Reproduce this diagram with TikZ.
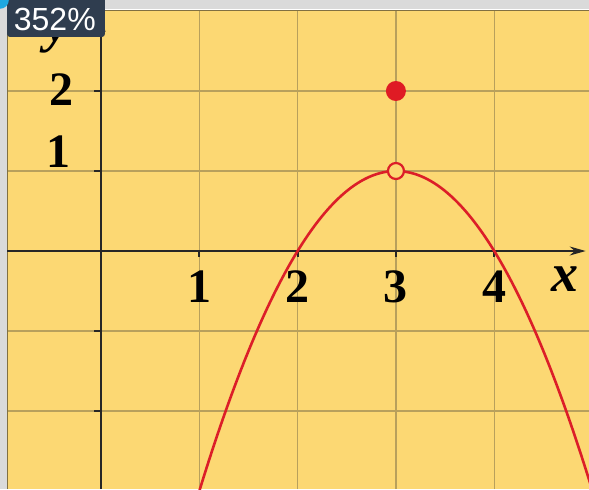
\documentclass[tikz,border=0pt]{standalone}
\usepackage{fontspec}
\setmainfont{Liberation Serif}
\newfontfamily\zoomfont{Liberation Sans}
\usetikzlibrary{positioning,arrows.meta,calc}
\definecolor{paper}{HTML}{FCD873}
\definecolor{gridline}{HTML}{B8A05C}
\definecolor{curve}{HTML}{DC1E28}
\definecolor{frame}{HTML}{DADADA}
\definecolor{badge}{HTML}{2F3D4F}
\definecolor{corner}{HTML}{1FA8E0}
\tikzset{
  ticklabel/.style={font=\fontsize{48}{48}\selectfont\bfseries, inner sep=0pt},
  axislabel/.style={font=\fontsize{54}{54}\selectfont\bfseries\itshape, inner sep=0pt},
  axisline/.style={line width=1.8pt, draw=black!85, -{Stealth[length=16pt,width=9pt]}},
}
\begin{document}
\begin{tikzpicture}[x=98.3pt, y=80pt]
  \useasboundingbox (-1.0275,-2.975) rectangle (4.964,3.1375);
  % screen frame and paper
  \fill[frame] (-1.0275,-2.975) rectangle (4.964,3.1375);
  \fill[white] (-0.956,3.0) rectangle (4.964,3.03);
  \fill[paper] (-0.956,-2.975) rectangle (4.964,3.0);
  \foreach \i in {1,2,3,4}
    \draw[gridline, line width=1.4pt] (\i,-2.975) -- (\i,3);
  \foreach \j in {-2,-1,1,2}
    \draw[gridline, line width=1.4pt] (-0.956,\j) -- (4.964,\j);
  \draw[gridline!70!black, line width=1pt] (-0.956,-2.975) -- (-0.956,3.0) -- (4.964,3.0);
  % axes
  \coordinate (xstart) at (-0.956,0);
  \coordinate (xend) at (4.93,0);
  \coordinate (ystart) at (0,-2.975);
  \coordinate (yend) at (0,2.94);
  \draw[axisline] (xstart) -- (xend);
  \draw[axisline] (ystart) -- (yend);
  \foreach \i in {1,2,3,4}
    \draw[black!85, line width=2pt] (\i,0) -- (\i,-0.07);
  \foreach \j in {-2,-1,1,2}
    \draw[black!85, line width=2.5pt] (0,\j) -- (-0.07,\j);
  % labels
  \foreach \i in {1,2,3,4}
    \node[ticklabel] (xl\i) at (\i,-0.45) {\i};
  \node[ticklabel] (yl2) at (-0.40,2.02) {2};
  \node[ticklabel] (yl1) at (-0.43,1.24) {1};
  \node[axislabel] (xlab) at (4.72,-0.35) {x};
  \node[axislabel] (ylab) at (-0.44,2.70) {y};
  % the function
  \draw[curve, line width=2.6pt] plot[domain=1.0:4.999, samples=120, smooth] (\x,{1-(\x-3)^2});
  \node[circle, fill=paper, draw=curve, line width=2.2pt, minimum size=16pt, inner sep=0pt] (hole) at (3,1) {};
  \node[circle, fill=curve!90!red, minimum size=20pt, inner sep=0pt] (dot) at (3,2) {};
  % zoom badge
  \fill[badge, rounded corners=3pt] (-0.956,3.2) rectangle (0.04,2.675);
  \node[text=white, font=\zoomfont\fontsize{32}{32}\selectfont, inner sep=0pt] (zoom) at (-0.47,2.89) {352\%};
  \fill[corner] (-1.0275,3.1375) -- ++(0.09,0) arc[start angle=0, end angle=-90, x radius=0.09, y radius=0.11] -- cycle;
\end{tikzpicture}
\end{document}
